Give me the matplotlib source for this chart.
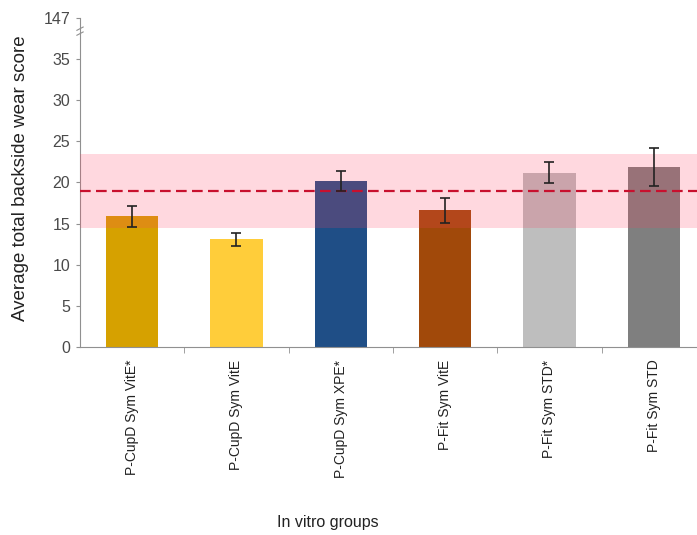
import numpy as np
import matplotlib
matplotlib.use("Agg")
import matplotlib.pyplot as plt

plt.rcParams['font.family'] = ['Liberation Sans', 'DejaVu Sans']

groups = ['P-CupD Sym VitE*', 'P-CupD Sym VitE', 'P-CupD Sym XPE*',
          'P-Fit Sym VitE', 'P-Fit Sym STD*', 'P-Fit Sym STD']
means = [15.9, 13.1, 20.2, 16.6, 21.2, 21.9]
errs = [1.3, 0.8, 1.2, 1.5, 1.25, 2.3]
colors = ['#D6A100', '#FFCD3A', '#1F4E86', '#A1490A', '#BEBEBE', '#7F7F7F']

ref_mean = 19.0
ref_sd = 4.5

ytick_vals = [0, 5, 10, 15, 20, 25, 30, 35, 40]
ytick_labels = ['0', '5', '10', '15', '20', '25', '30', '35', '147']

fig = plt.figure(figsize=(6.97, 5.35), dpi=100)
ax = fig.add_axes([0.1148, 0.3514, 0.898, 0.615])

x = np.arange(len(groups))
ax.bar(x, means, width=0.5, color=colors, zorder=2)
ax.errorbar(x, means, yerr=errs, fmt='none', ecolor='#222222',
            elinewidth=1.2, capsize=3.5, capthick=1.2, zorder=5)

# reference band + mean line
ax.axhspan(ref_mean - ref_sd, ref_mean + ref_sd, color='#FF4060',
           alpha=0.2, lw=0, zorder=3)
ax.axhline(ref_mean, color='#C8102E', lw=1.6, dashes=(4.8, 2.4), zorder=4)

ax.set_xlim(-0.5, len(groups) - 0.5)
ax.set_ylim(0, 40)
ax.set_yticks(ytick_vals)
ax.set_yticklabels(ytick_labels)
ax.set_xticks(x)
ax.set_xticklabels(groups, rotation=90, fontsize=10, color='#222222')
ax.set_xticks(x[:-1] + 0.5, minor=True)
ax.tick_params(axis='x', which='major', length=0, pad=9)
ax.tick_params(axis='x', which='minor', length=4, color='#909090', direction='out')
ax.tick_params(axis='y', length=3, color='#909090', labelsize=11.5,
               labelcolor='#4a4a4a', pad=4)

for s in ['top', 'right']:
    ax.spines[s].set_visible(False)
for s in ['left', 'bottom']:
    ax.spines[s].set_color('#909090')

# axis break mark
ax.plot([-0.53, -0.47], [37.9, 38.3], color='#909090', lw=0.8, clip_on=False, zorder=6)
ax.plot([-0.53, -0.47], [38.5, 38.9], color='#909090', lw=0.8, clip_on=False, zorder=6)

fig.text(0.03, 0.667, 'Average total backside wear score', rotation=90,
         ha='center', va='center', fontsize=13.5, color='#222222')
fig.text(0.471, 0.024, 'In vitro groups', ha='center', va='center',
         fontsize=11.5, color='#222222')

fig.savefig('out.png', dpi=100)
